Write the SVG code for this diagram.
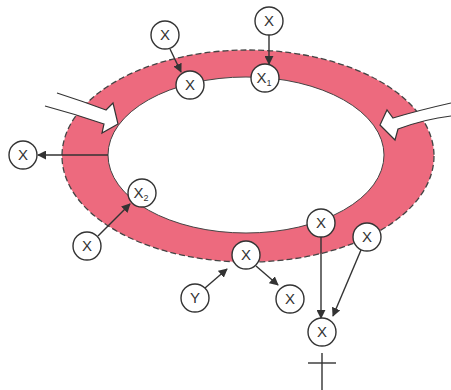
<svg xmlns="http://www.w3.org/2000/svg" width="451" height="390" viewBox="0 0 451 390">
<style>
.n circle{fill:#fff;stroke:#333;stroke-width:1.4}
.n text{font-family:"Liberation Sans",Arial,sans-serif;font-size:15px;fill:#333;text-anchor:middle}
.sub{font-size:9px}
.c line{stroke:#333;stroke-width:1.4}
.w{fill:#fff;stroke:#333;stroke-width:1.2;stroke-linejoin:miter}
</style>
<defs>
<marker id="ah" viewBox="0 0 10 10" refX="9" refY="5" markerWidth="9" markerHeight="9" markerUnits="userSpaceOnUse" orient="auto">
<path d="M0,0 L10,5 L0,10 Z" fill="#333"/>
</marker>
</defs>
<rect width="451" height="390" fill="#fff"/>
<g id="ring">
<path d="M62,156 A186,106 0 1,0 434,156 A186,106 0 1,0 62,156 Z M108,155 A138,78 0 1,1 384,155 A138,78 0 1,1 108,155 Z" fill="#ED6A7E" fill-rule="evenodd"/>
<ellipse cx="248" cy="156" rx="186" ry="106" fill="none" stroke="#444" stroke-width="1.3" stroke-dasharray="6 3"/>
<ellipse cx="246" cy="155" rx="138" ry="78" fill="none" stroke="#444" stroke-width="1"/>
</g>
<g id="inflow-left">
<path class="w" d="M57,93 Q82,101 106,110 L113,103 L118,124 L102,133 L104,124 Q75,114 45,106"/>
</g>
<g id="inflow-right">
<path class="w" d="M451,103 Q420,110 393,118 L387,110 L380,125 L395,140 L398,129 Q425,119 451,116"/>
</g>
<g class="c" id="connectors">
<line x1="170" y1="49" x2="181" y2="72" marker-end="url(#ah)"/>
<line x1="269" y1="35" x2="269" y2="64" marker-end="url(#ah)"/>
<line x1="108" y1="155" x2="38" y2="155" marker-end="url(#ah)"/>
<line x1="98" y1="236" x2="130" y2="204" marker-end="url(#ah)"/>
<line x1="205" y1="288" x2="227" y2="269" marker-end="url(#ah)"/>
<line x1="256" y1="266" x2="278" y2="285" marker-end="url(#ah)"/>
<line x1="321" y1="237" x2="321" y2="318" marker-end="url(#ah)"/>
<line x1="361" y1="250" x2="333" y2="316" marker-end="url(#ah)"/>
<line x1="322" y1="353" x2="322" y2="390"/>
<line x1="308" y1="363" x2="336" y2="363"/>
</g>
<g class="n" id="n1"><circle cx="165" cy="35" r="14"/><text x="165" y="40">X</text></g>
<g class="n" id="n2"><circle cx="190" cy="85" r="14"/><text x="190" y="90">X</text></g>
<g class="n" id="n3"><circle cx="269" cy="21" r="14"/><text x="269" y="26">X</text></g>
<g class="n" id="n4"><circle cx="265" cy="78" r="14"/><text x="264" y="83">X<tspan class="sub" dy="3">1</tspan></text></g>
<g class="n" id="n5"><circle cx="23" cy="155" r="14"/><text x="23" y="160">X</text></g>
<g class="n" id="n6"><circle cx="142" cy="193" r="14"/><text x="141" y="198">X<tspan class="sub" dy="3">2</tspan></text></g>
<g class="n" id="n7"><circle cx="87" cy="246" r="14"/><text x="87" y="251">X</text></g>
<g class="n" id="n8"><circle cx="246" cy="255" r="14"/><text x="246" y="260">X</text></g>
<g class="n" id="n9"><circle cx="195" cy="298" r="14"/><text x="195" y="303">Y</text></g>
<g class="n" id="n10"><circle cx="290" cy="299" r="14"/><text x="290" y="304">X</text></g>
<g class="n" id="n11"><circle cx="321" cy="223" r="14"/><text x="321" y="228">X</text></g>
<g class="n" id="n12"><circle cx="367" cy="237" r="14"/><text x="367" y="242">X</text></g>
<g class="n" id="n13"><circle cx="322" cy="332" r="14"/><text x="322" y="337">X</text></g>
</svg>
